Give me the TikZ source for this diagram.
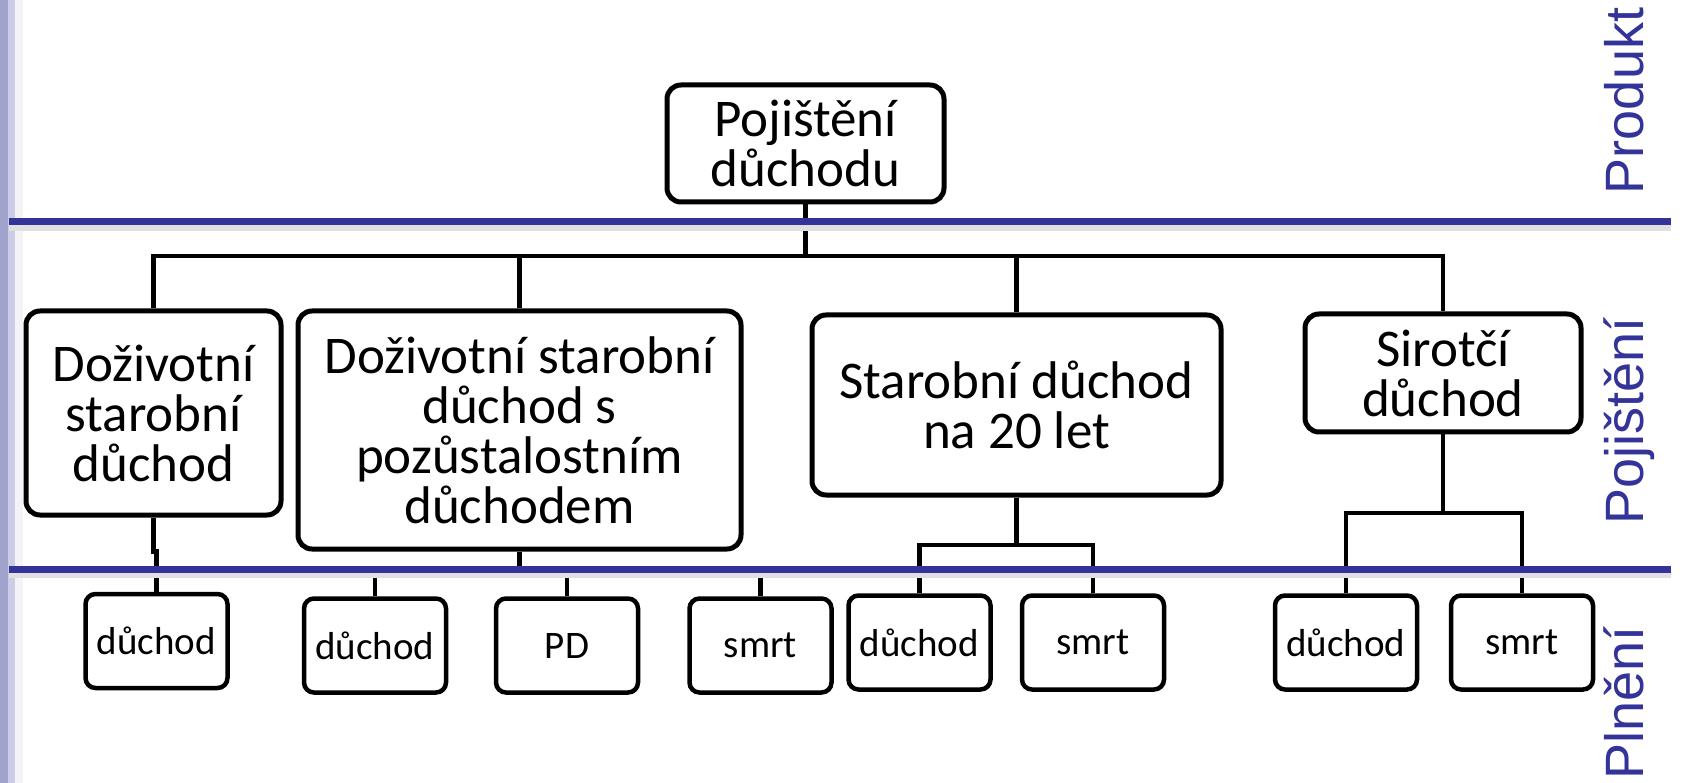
\documentclass[tikz,border=0pt]{standalone}
\usepackage{fontspec}
\setmainfont{Carlito}
\newfontfamily\sidefont{Liberation Sans}
\definecolor{bandblue}{HTML}{333399}
\definecolor{stripeA}{HTML}{A0A4CC}
\definecolor{stripeB}{HTML}{CACDE5}
\definecolor{stripeC}{HTML}{F3F3F8}

\begin{document}
\begin{tikzpicture}[x=1pt,y=-1pt,
  box/.style={draw,line width=5pt,rounded corners=14pt,align=center,inner sep=0pt,font=\fontsize{53}{50}\selectfont},
  leaf/.style={draw,line width=4.5pt,rounded corners=10pt,minimum width=142pt,minimum height=94pt,inner sep=0pt,font=\fontsize{39}{39}\selectfont},
  link/.style={line width=4.5pt},
  band/.style={bandblue,line width=7pt},
  bandshadow/.style={black!12,line width=6pt},
  side/.style={bandblue,rotate=90,anchor=base,inner sep=0pt,font=\sidefont\fontsize{54}{54}\selectfont}]

\useasboundingbox (0,0) rectangle (1682,783);
\fill[white] (0,0) rectangle (1682,783);
\fill[stripeA] (0,0) rectangle (8,783);
\fill[stripeB] (8,0) rectangle (15,783);
\fill[stripeC] (15,0) rectangle (23,783);

\node[box,minimum width=277pt,minimum height=117pt] (pd) at (805.5,143.5) {Pojištění\\důchodu};
\node[box,minimum width=255pt,minimum height=204pt] (ds) at (153.5,413) {Doživotní\\starobní\\důchod};
\node[box,minimum width=443pt,minimum height=238pt] (dsp) at (519.5,430) {Doživotní starobní\\důchod s\\pozůstalostním\\důchodem};
\node[box,minimum width=409pt,minimum height=180pt] (sd) at (1016.5,405) {Starobní důchod\\na 20 let};
\node[box,minimum width=276pt,minimum height=118pt] (so) at (1443,373) {Sirotčí\\důchod};

\node[leaf] (l1) at (156.5,641) {důchod};
\node[leaf] (l2) at (375,645.5) {důchod};
\node[leaf] (l3) at (567,645.5) {PD};
\node[leaf] (l4) at (760.5,645.5) {smrt};
\node[leaf] (l5) at (919.5,642.5) {důchod};
\node[leaf] (l6) at (1093,642.5) {smrt};
\node[leaf] (l7) at (1346,642.5) {důchod};
\node[leaf] (l8) at (1522,642.5) {smrt};

\coordinate (topbus) at (805.5,256);
\draw[link] (pd.south) -- (topbus) -| (ds.north);
\draw[link] (topbus) -| (dsp.north);
\draw[link] (topbus) -| (sd.north);
\draw[link] (topbus) -| (so.north);

\draw[link] (ds.south) -- ++(0,34) -| (l1.north);
\coordinate (dspbus) at (519.5,576);
\draw[link] (dsp.south) -- (dspbus) -| (l2.north);
\draw[link] (dspbus) -| (l3.north);
\draw[link] (dspbus) -| (l4.north);
\coordinate (sdbus) at (1016.5,545);
\draw[link] (sd.south) -- (sdbus) -| (l5.north);
\draw[link] (sdbus) -| (l6.north);
\coordinate (sobus) at (1443,513);
\draw[link] (so.south) -- (sobus) -| (l7.north);
\draw[link] (sobus) -| (l8.north);

\draw[bandshadow] (9,228) -- (1671,228);
\draw[bandshadow] (9,575) -- (1671,575);
\draw[band] (9,222) -- (1671,222);
\draw[band] (9,569) -- (1671,569);

\node[side] (prod) at (1643,101) {Produkt};
\node[side] (poj) at (1643,421) {Pojištění};
\node[side] (pln) at (1643,703) {Plnění};
\end{tikzpicture}
\end{document}
